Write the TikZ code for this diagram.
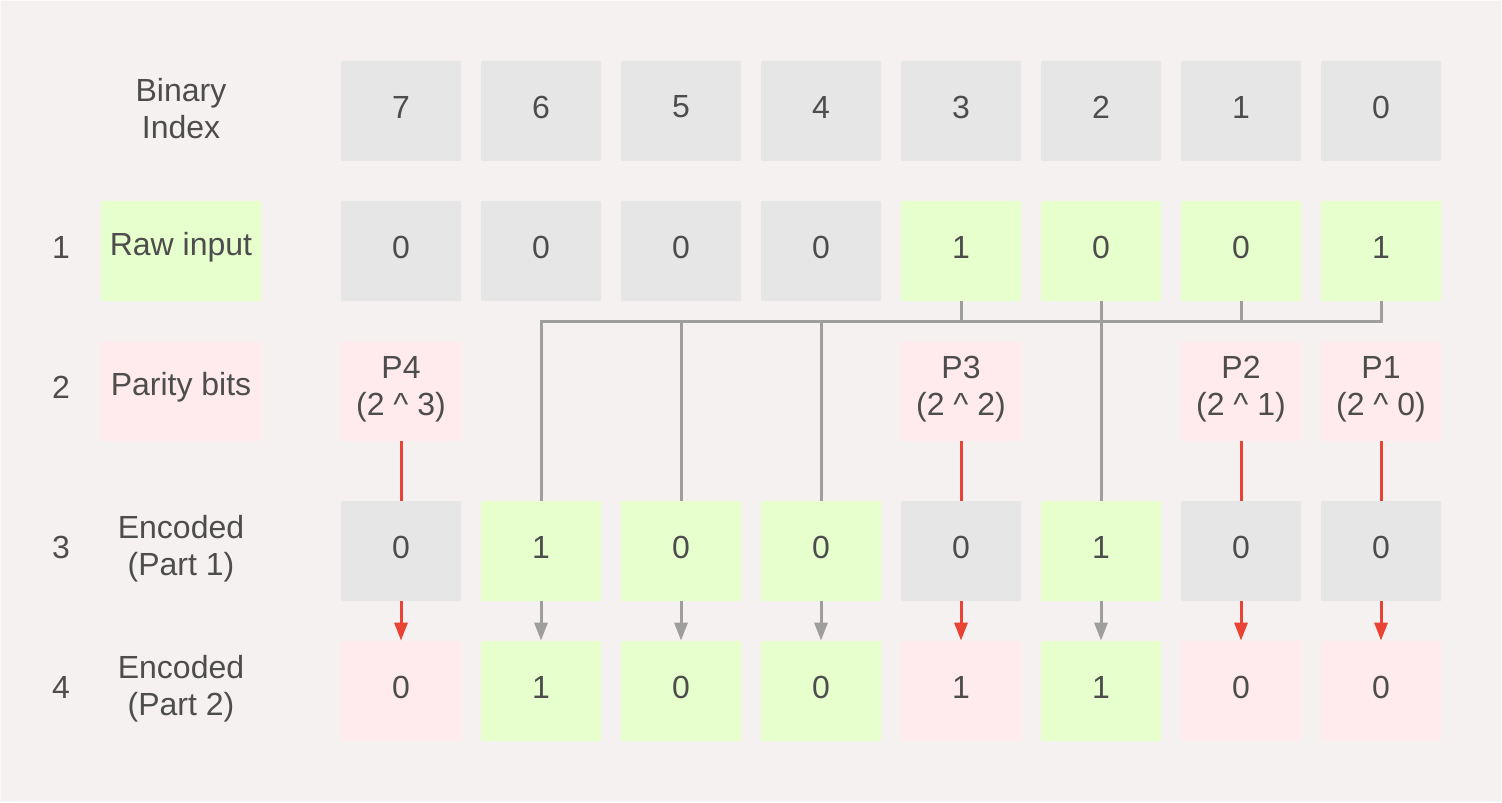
\documentclass[tikz,border=0pt]{standalone}
\usepackage{fontspec}
\setmainfont{Liberation Sans}
\usetikzlibrary{arrows.meta}
\definecolor{bgc}{HTML}{F5F1F0}
\definecolor{grayc}{HTML}{E6E6E6}
\definecolor{greenc}{HTML}{E6FFCC}
\definecolor{pinkc}{HTML}{FFEBEE}
\definecolor{txtc}{HTML}{4D4D4D}
\definecolor{linec}{HTML}{9E9E9E}
\definecolor{redc}{HTML}{E84335}
\tikzset{
  lt/.style={text=txtc, font=\fontsize{16}{18.5}\selectfont, align=center, inner sep=0pt},
  txt/.style={label={[lt, yshift=2pt]center:#1}},
  txtt/.style={label={[lt, yshift=1pt]center:#1}},
  cell/.style={minimum width=60pt, minimum height=50pt, inner sep=0pt, rounded corners=0.5pt},
  gcell/.style={cell, fill=grayc},
  ecell/.style={cell, fill=greenc},
  pcell/.style={cell, fill=pinkc},
  lbl/.style={cell, minimum width=80pt},
  num/.style={lt, yshift=2pt},
  gl/.style={draw=linec, line width=1.5pt},
  rl/.style={draw=redc, line width=1.5pt},
  garr/.style={gl, -{Triangle[length=9pt,width=6.5pt]}},
  rarr/.style={rl, -{Triangle[length=9pt,width=6.5pt]}}
}
\begin{document}
\begin{tikzpicture}[x=0.5pt,y=-0.5pt]
\useasboundingbox (0,0) rectangle (1502,802);
\fill[bgc] (0,0) rectangle (1502,802);
\draw[white!60!bgc, line width=0.5pt] (0.5,0.5) rectangle (1501.5,801.5);
% row labels
\node[lbl, txtt={Binary\\Index}] (l0) at (181,111) {};
\node[lbl, fill=greenc, txt={Raw input}] (l1) at (181,251) {};
\node[lbl, fill=pinkc, txt={Parity bits}] (l2) at (181,391) {};
\node[lbl, txtt={Encoded\\(Part 1)}] (l3) at (181,551) {};
\node[lbl, txtt={Encoded\\(Part 2)}] (l4) at (181,691) {};
\node[num] (n1) at (61,251) {1};
\node[num] (n2) at (61,391) {2};
\node[num] (n3) at (61,551) {3};
\node[num] (n4) at (61,691) {4};
% row 0: binary index
\node[gcell, txt=7] (r0-7) at (401,111) {};
\node[gcell, txt=6] (r0-6) at (541,111) {};
\node[gcell, txt=5] (r0-5) at (681,111) {};
\node[gcell, txt=4] (r0-4) at (821,111) {};
\node[gcell, txt=3] (r0-3) at (961,111) {};
\node[gcell, txt=2] (r0-2) at (1101,111) {};
\node[gcell, txt=1] (r0-1) at (1241,111) {};
\node[gcell, txt=0] (r0-0) at (1381,111) {};
% row 1: raw input
\node[gcell, txt=0] (r1-7) at (401,251) {};
\node[gcell, txt=0] (r1-6) at (541,251) {};
\node[gcell, txt=0] (r1-5) at (681,251) {};
\node[gcell, txt=0] (r1-4) at (821,251) {};
\node[ecell, txt=1] (r1-3) at (961,251) {};
\node[ecell, txt=0] (r1-2) at (1101,251) {};
\node[ecell, txt=0] (r1-1) at (1241,251) {};
\node[ecell, txt=1] (r1-0) at (1381,251) {};
% row 2: parity bits
\node[pcell, txtt={P4\\(2 \^{} 3)}] (r2-7) at (401,391) {};
\node[pcell, txtt={P3\\(2 \^{} 2)}] (r2-3) at (961,391) {};
\node[pcell, txtt={P2\\(2 \^{} 1)}] (r2-1) at (1241,391) {};
\node[pcell, txtt={P1\\(2 \^{} 0)}] (r2-0) at (1381,391) {};
% row 3: encoded part 1
\node[gcell, txt=0] (r3-7) at (401,551) {};
\node[ecell, txt=1] (r3-6) at (541,551) {};
\node[ecell, txt=0] (r3-5) at (681,551) {};
\node[ecell, txt=0] (r3-4) at (821,551) {};
\node[gcell, txt=0] (r3-3) at (961,551) {};
\node[ecell, txt=1] (r3-2) at (1101,551) {};
\node[gcell, txt=0] (r3-1) at (1241,551) {};
\node[gcell, txt=0] (r3-0) at (1381,551) {};
% row 4: encoded part 2
\node[pcell, txt=0] (r4-7) at (401,691) {};
\node[ecell, txt=1] (r4-6) at (541,691) {};
\node[ecell, txt=0] (r4-5) at (681,691) {};
\node[ecell, txt=0] (r4-4) at (821,691) {};
\node[pcell, txt=1] (r4-3) at (961,691) {};
\node[ecell, txt=1] (r4-2) at (1101,691) {};
\node[pcell, txt=0] (r4-1) at (1241,691) {};
\node[pcell, txt=0] (r4-0) at (1381,691) {};
% gray bus
\coordinate (hy) at (0,321);
\draw[gl] (r1-0.south) -- (r1-0.south |- hy) -- (r3-6.north |- hy) -- (r3-6.north);
\draw[gl] (r3-5.north |- hy) -- (r3-5.north);
\draw[gl] (r3-4.north |- hy) -- (r3-4.north);
\draw[gl] (r1-3.south) -- (r1-3.south |- hy);
\draw[gl] (r1-1.south) -- (r1-1.south |- hy);
\draw[gl] (r1-2.south) -- (r3-2.north);
% red parity lines
\draw[rl] (r2-7.south) -- (r3-7.north);
\draw[rl] (r2-3.south) -- (r3-3.north);
\draw[rl] (r2-1.south) -- (r3-1.north);
\draw[rl] (r2-0.south) -- (r3-0.north);
% arrows to row 4
\draw[rarr] (r3-7.south) -- (r4-7.north);
\draw[garr] (r3-6.south) -- (r4-6.north);
\draw[garr] (r3-5.south) -- (r4-5.north);
\draw[garr] (r3-4.south) -- (r4-4.north);
\draw[rarr] (r3-3.south) -- (r4-3.north);
\draw[garr] (r3-2.south) -- (r4-2.north);
\draw[rarr] (r3-1.south) -- (r4-1.north);
\draw[rarr] (r3-0.south) -- (r4-0.north);
\end{tikzpicture}
\end{document}
